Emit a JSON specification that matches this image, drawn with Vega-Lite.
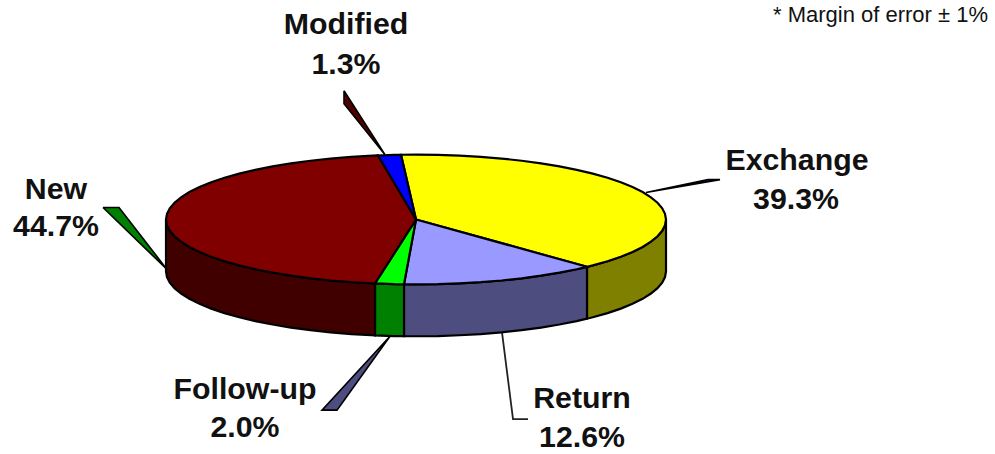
{"$schema":"https://vega.github.io/schema/vega-lite/v6.json","width":995,"height":454,"padding":0,"autosize":{"type":"fit","contains":"padding"},"background":"#ffffff","config":{"view":{"stroke":null}},
"datasets":{
"leaders":[
{"part":"modified-leader","x":344,"y":91},{"part":"modified-leader","x":344,"y":104},{"part":"modified-leader","x":385,"y":155},{"part":"modified-leader","x":344,"y":91},
{"part":"new-leader","x":103,"y":208},{"part":"new-leader","x":119,"y":208},{"part":"new-leader","x":167,"y":270},{"part":"new-leader","x":103,"y":208},
{"part":"followup-leader","x":390,"y":337},{"part":"followup-leader","x":322,"y":411},{"part":"followup-leader","x":337,"y":411},{"part":"followup-leader","x":390,"y":337},
{"part":"exchange-leader","x":646,"y":193},{"part":"exchange-leader","x":708,"y":180},{"part":"exchange-leader","x":720,"y":180},{"part":"exchange-leader","x":646,"y":193}
],
"returnLeader":[{"x":502,"y":333},{"x":513,"y":420},{"x":528,"y":420}],
"rims":[
{"part":"Exchange side","x":666,"y":220},{"part":"Exchange side","x":665,"y":225.7},{"part":"Exchange side","x":662.2,"y":231.3},{"part":"Exchange side","x":657.5,"y":236.8},{"part":"Exchange side","x":650.9,"y":242.2},{"part":"Exchange side","x":642.6,"y":247.5},{"part":"Exchange side","x":632.5,"y":252.5},{"part":"Exchange side","x":620.8,"y":257.3},{"part":"Exchange side","x":607.5,"y":261.8},{"part":"Exchange side","x":592.8,"y":266},{"part":"Exchange side","x":587,"y":267.4},{"part":"Exchange side","x":587,"y":319.4},{"part":"Exchange side","x":592.8,"y":318},{"part":"Exchange side","x":607.5,"y":313.8},{"part":"Exchange side","x":620.8,"y":309.3},{"part":"Exchange side","x":632.5,"y":304.5},{"part":"Exchange side","x":642.6,"y":299.5},{"part":"Exchange side","x":650.9,"y":294.2},{"part":"Exchange side","x":657.5,"y":288.8},{"part":"Exchange side","x":662.2,"y":283.3},{"part":"Exchange side","x":665,"y":277.7},{"part":"Exchange side","x":666,"y":272},{"part":"Exchange side","x":666,"y":220},
{"part":"Return side","x":587,"y":267.4},{"part":"Return side","x":576.7,"y":269.8},{"part":"Return side","x":559.4,"y":273.2},{"part":"Return side","x":541,"y":276.3},{"part":"Return side","x":521.7,"y":278.9},{"part":"Return side","x":501.5,"y":281.1},{"part":"Return side","x":480.7,"y":282.8},{"part":"Return side","x":459.4,"y":284},{"part":"Return side","x":437.8,"y":284.8},{"part":"Return side","x":416,"y":285},{"part":"Return side","x":404,"y":284.9},{"part":"Return side","x":404,"y":336.9},{"part":"Return side","x":416,"y":337},{"part":"Return side","x":437.8,"y":336.8},{"part":"Return side","x":459.4,"y":336},{"part":"Return side","x":480.7,"y":334.8},{"part":"Return side","x":501.5,"y":333.1},{"part":"Return side","x":521.7,"y":330.9},{"part":"Return side","x":541,"y":328.3},{"part":"Return side","x":559.4,"y":325.2},{"part":"Return side","x":576.7,"y":321.8},{"part":"Return side","x":587,"y":319.4},{"part":"Return side","x":587,"y":267.4},
{"part":"Follow-up side","x":404,"y":284.9},{"part":"Follow-up side","x":394.2,"y":284.8},{"part":"Follow-up side","x":375,"y":284.1},{"part":"Follow-up side","x":375,"y":336.1},{"part":"Follow-up side","x":394.2,"y":336.8},{"part":"Follow-up side","x":404,"y":336.9},{"part":"Follow-up side","x":404,"y":284.9},
{"part":"New side","x":375,"y":284.1},{"part":"New side","x":351.3,"y":282.8},{"part":"New side","x":330.5,"y":281.1},{"part":"New side","x":310.4,"y":278.9},{"part":"New side","x":291,"y":276.3},{"part":"New side","x":272.6,"y":273.2},{"part":"New side","x":255.3,"y":269.8},{"part":"New side","x":239.2,"y":266},{"part":"New side","x":224.5,"y":261.8},{"part":"New side","x":211.2,"y":257.3},{"part":"New side","x":199.5,"y":252.5},{"part":"New side","x":189.4,"y":247.5},{"part":"New side","x":181.1,"y":242.2},{"part":"New side","x":174.5,"y":236.8},{"part":"New side","x":169.8,"y":231.3},{"part":"New side","x":167,"y":225.7},{"part":"New side","x":166,"y":220},{"part":"New side","x":166,"y":272},{"part":"New side","x":167,"y":277.7},{"part":"New side","x":169.8,"y":283.3},{"part":"New side","x":174.5,"y":288.8},{"part":"New side","x":181.1,"y":294.2},{"part":"New side","x":189.4,"y":299.5},{"part":"New side","x":199.5,"y":304.5},{"part":"New side","x":211.2,"y":309.3},{"part":"New side","x":224.5,"y":313.8},{"part":"New side","x":239.2,"y":318},{"part":"New side","x":255.3,"y":321.8},{"part":"New side","x":272.6,"y":325.2},{"part":"New side","x":291,"y":328.3},{"part":"New side","x":310.4,"y":330.9},{"part":"New side","x":330.5,"y":333.1},{"part":"New side","x":351.3,"y":334.8},{"part":"New side","x":375,"y":336.1},{"part":"New side","x":375,"y":284.1}
],
"tops":[
{"part":"Exchange","x":416,"y":220},{"part":"Exchange","x":401,"y":155.1},{"part":"Exchange","x":416,"y":155},{"part":"Exchange","x":437.8,"y":155.2},{"part":"Exchange","x":459.4,"y":156},{"part":"Exchange","x":480.7,"y":157.2},{"part":"Exchange","x":501.5,"y":158.9},{"part":"Exchange","x":521.7,"y":161.1},{"part":"Exchange","x":541,"y":163.7},{"part":"Exchange","x":559.4,"y":166.8},{"part":"Exchange","x":576.7,"y":170.2},{"part":"Exchange","x":592.8,"y":174},{"part":"Exchange","x":607.5,"y":178.2},{"part":"Exchange","x":620.8,"y":182.7},{"part":"Exchange","x":632.5,"y":187.5},{"part":"Exchange","x":642.6,"y":192.5},{"part":"Exchange","x":650.9,"y":197.8},{"part":"Exchange","x":657.5,"y":203.2},{"part":"Exchange","x":662.2,"y":208.7},{"part":"Exchange","x":665,"y":214.3},{"part":"Exchange","x":666,"y":220},{"part":"Exchange","x":665,"y":225.7},{"part":"Exchange","x":662.2,"y":231.3},{"part":"Exchange","x":657.5,"y":236.8},{"part":"Exchange","x":650.9,"y":242.2},{"part":"Exchange","x":642.6,"y":247.5},{"part":"Exchange","x":632.5,"y":252.5},{"part":"Exchange","x":620.8,"y":257.3},{"part":"Exchange","x":607.5,"y":261.8},{"part":"Exchange","x":592.8,"y":266},{"part":"Exchange","x":587,"y":267.4},{"part":"Exchange","x":416,"y":220},
{"part":"Return","x":416,"y":220},{"part":"Return","x":587,"y":267.4},{"part":"Return","x":576.7,"y":269.8},{"part":"Return","x":559.4,"y":273.2},{"part":"Return","x":541,"y":276.3},{"part":"Return","x":521.7,"y":278.9},{"part":"Return","x":501.5,"y":281.1},{"part":"Return","x":480.7,"y":282.8},{"part":"Return","x":459.4,"y":284},{"part":"Return","x":437.8,"y":284.8},{"part":"Return","x":416,"y":285},{"part":"Return","x":404,"y":284.9},{"part":"Return","x":416,"y":220},
{"part":"Follow-up","x":416,"y":220},{"part":"Follow-up","x":404,"y":284.9},{"part":"Follow-up","x":394.2,"y":284.8},{"part":"Follow-up","x":375,"y":284.1},{"part":"Follow-up","x":416,"y":220},
{"part":"New","x":416,"y":220},{"part":"New","x":375,"y":284.1},{"part":"New","x":351.3,"y":282.8},{"part":"New","x":330.5,"y":281.1},{"part":"New","x":310.4,"y":278.9},{"part":"New","x":291,"y":276.3},{"part":"New","x":272.6,"y":273.2},{"part":"New","x":255.3,"y":269.8},{"part":"New","x":239.2,"y":266},{"part":"New","x":224.5,"y":261.8},{"part":"New","x":211.2,"y":257.3},{"part":"New","x":199.5,"y":252.5},{"part":"New","x":189.4,"y":247.5},{"part":"New","x":181.1,"y":242.2},{"part":"New","x":174.5,"y":236.8},{"part":"New","x":169.8,"y":231.3},{"part":"New","x":167,"y":225.7},{"part":"New","x":166,"y":220},{"part":"New","x":167,"y":214.3},{"part":"New","x":169.8,"y":208.7},{"part":"New","x":174.5,"y":203.2},{"part":"New","x":181.1,"y":197.8},{"part":"New","x":189.4,"y":192.5},{"part":"New","x":199.5,"y":187.5},{"part":"New","x":211.2,"y":182.7},{"part":"New","x":224.5,"y":178.2},{"part":"New","x":239.2,"y":174},{"part":"New","x":255.3,"y":170.2},{"part":"New","x":272.6,"y":166.8},{"part":"New","x":291,"y":163.7},{"part":"New","x":310.4,"y":161.1},{"part":"New","x":330.5,"y":158.9},{"part":"New","x":351.3,"y":157.2},{"part":"New","x":372.6,"y":156},{"part":"New","x":378,"y":155.8},{"part":"New","x":416,"y":220},
{"part":"Modified","x":416,"y":220},{"part":"Modified","x":378,"y":155.8},{"part":"Modified","x":394.2,"y":155.2},{"part":"Modified","x":401,"y":155.1},{"part":"Modified","x":416,"y":220}
],
"labels":[
{"text":"Modified","x":346,"y":25},{"text":"1.3%","x":346,"y":65},
{"text":"Exchange","x":797,"y":161},{"text":"39.3%","x":796,"y":200},
{"text":"New","x":56,"y":190},{"text":"44.7%","x":56,"y":227},
{"text":"Follow-up","x":245,"y":391},{"text":"2.0%","x":245,"y":429},
{"text":"Return","x":582,"y":400},{"text":"12.6%","x":582,"y":439}
],
"note":[{"text":"* Margin of error ± 1%","x":988,"y":15}]
},
"layer":[
{"data":{"name":"leaders"},"mark":{"type":"line","stroke":"#000000","strokeWidth":1.6},
"encoding":{"x":{"field":"x","type":"quantitative","scale":{"domain":[0,995],"nice":false,"zero":false},"axis":null},"y":{"field":"y","type":"quantitative","scale":{"domain":[454,0],"nice":false,"zero":false},"axis":null},"order":{"value":null},
"fill":{"field":"part","type":"nominal","legend":null,"scale":{"domain":["modified-leader","new-leader","followup-leader","exchange-leader"],"range":["#500000","#008000","#4d4d80","#0000ff"]}}}},
{"data":{"name":"returnLeader"},"mark":{"type":"line","stroke":"#222222","strokeWidth":1.8},
"encoding":{"x":{"field":"x","type":"quantitative","axis":null},"y":{"field":"y","type":"quantitative","axis":null},"order":{"value":null}}},
{"data":{"name":"rims"},"mark":{"type":"line","stroke":"#000000","strokeWidth":2.2},
"encoding":{"x":{"field":"x","type":"quantitative","axis":null},"y":{"field":"y","type":"quantitative","axis":null},"order":{"value":null},
"fill":{"field":"part","type":"nominal","legend":null,"scale":{"domain":["Exchange side","Return side","Follow-up side","New side"],"range":["#808000","#4d4d80","#008000","#400000"]}}}},
{"data":{"name":"tops"},"mark":{"type":"line","stroke":"#000000","strokeWidth":2.2},
"encoding":{"x":{"field":"x","type":"quantitative","axis":null},"y":{"field":"y","type":"quantitative","axis":null},"order":{"value":null},
"fill":{"field":"part","type":"nominal","legend":null,"scale":{"domain":["Exchange","Return","Follow-up","New","Modified"],"range":["#ffff00","#9999ff","#00ff00","#800000","#0000ff"]}}}},
{"data":{"name":"labels"},"mark":{"type":"text","font":"Liberation Sans","fontWeight":"bold","fontSize":30.3,"align":"center","baseline":"middle","color":"#111111"},
"encoding":{"x":{"field":"x","type":"quantitative","axis":null},"y":{"field":"y","type":"quantitative","axis":null},"text":{"field":"text"}}},
{"data":{"name":"note"},"mark":{"type":"text","font":"Liberation Sans","fontSize":22,"align":"right","baseline":"middle","color":"#111111"},
"encoding":{"x":{"field":"x","type":"quantitative","axis":null},"y":{"field":"y","type":"quantitative","axis":null},"text":{"field":"text"}}}
],
"resolve":{"scale":{"fill":"independent"}}
}
